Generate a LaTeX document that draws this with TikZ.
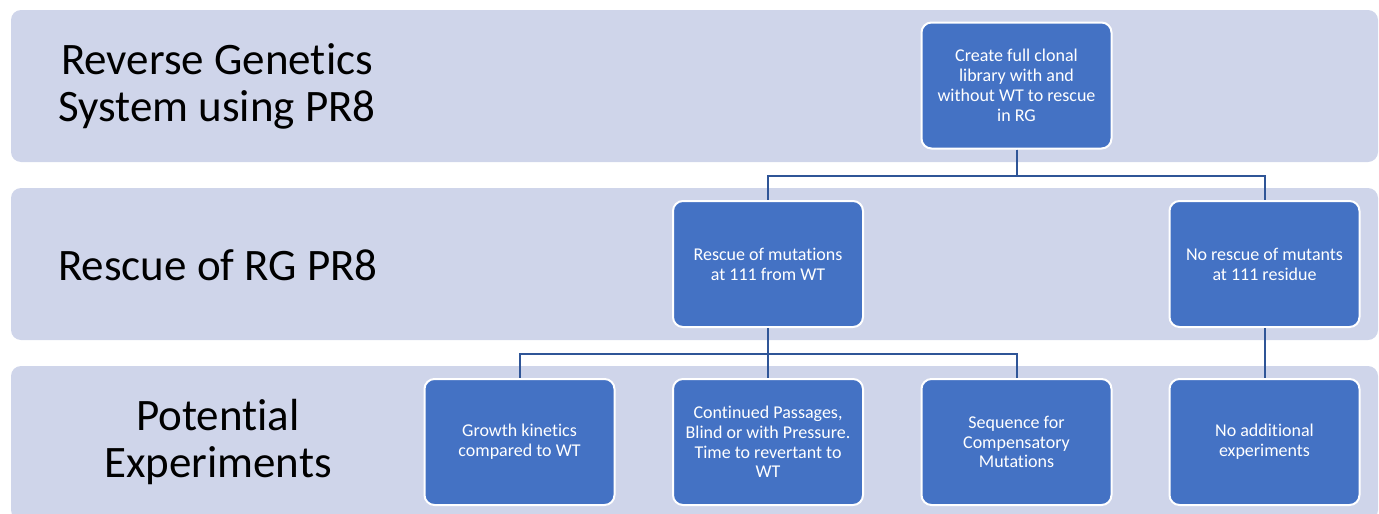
\documentclass[tikz,border=0pt]{standalone}
\usepackage{fontspec}
\setmainfont{Carlito}[Ligatures=NoCommon]
\definecolor{bandc}{HTML}{CFD5EA}
\definecolor{boxc}{HTML}{4472C4}
\definecolor{linec}{HTML}{2F5597}
\begin{document}
\begin{tikzpicture}[x=1pt,y=-1pt,
  bandbox/.style={fill=bandc, rounded corners=10pt, draw=none},
  stepbox/.style={rectangle, rounded corners=10pt, fill=boxc, draw=white, line width=2pt,
    minimum width=190pt, minimum height=126pt, inner sep=2pt, text=white, align=center,
    font=\fontsize{18}{19.8}\selectfont},
  lbl/.style={align=center, text=black, font=\fontsize{45}{47}\selectfont},
  conn/.style={draw=linec, line width=2pt}]
\useasboundingbox (0,0) rectangle (1379,514);
\path[bandbox] (11,10) rectangle (1378,162);
\path[bandbox] (11,188) rectangle (1378,340);
\path[bandbox] (11,366) rectangle (1378,520);

\node[lbl] (l1) at (217,86) {Reverse Genetics\\System using PR8};
\node[lbl] (l2) at (218,265) {Rescue of RG PR8};
\node[lbl] (l3) at (218,442) {Potential\\Experiments};

\node[stepbox] (top) at (1016.5,85.5) {Create full clonal\\library with and\\without WT to rescue\\in RG};
\node[stepbox] (r2a) at (768,264) {Rescue of mutations\\at 111 from WT};
\node[stepbox] (r2b) at (1264.5,264) {No rescue of mutants\\at 111 residue};
\node[stepbox] (r3a) at (519.5,442) {Growth kinetics\\compared to WT};
\node[stepbox] (r3b) at (768,442) {Continued Passages,\\Blind or with Pressure.\\Time to revertant to\\WT};
\node[stepbox] (r3c) at (1016.5,442) {Sequence for\\Compensatory\\Mutations};
\node[stepbox] (r3d) at (1264.5,442) {No additional\\experiments};

\draw[conn] (top.south) -- +(0,26) -| (r2a.north);
\draw[conn] (top.south) -- +(0,26) -| (r2b.north);
\draw[conn] (r2a.south) -- +(0,26) -| (r3a.north);
\draw[conn] (r2a.south) -- (r3b.north);
\draw[conn] (r2a.south) -- +(0,26) -| (r3c.north);
\draw[conn] (r2b.south) -- (r3d.north);
\end{tikzpicture}
\end{document}
